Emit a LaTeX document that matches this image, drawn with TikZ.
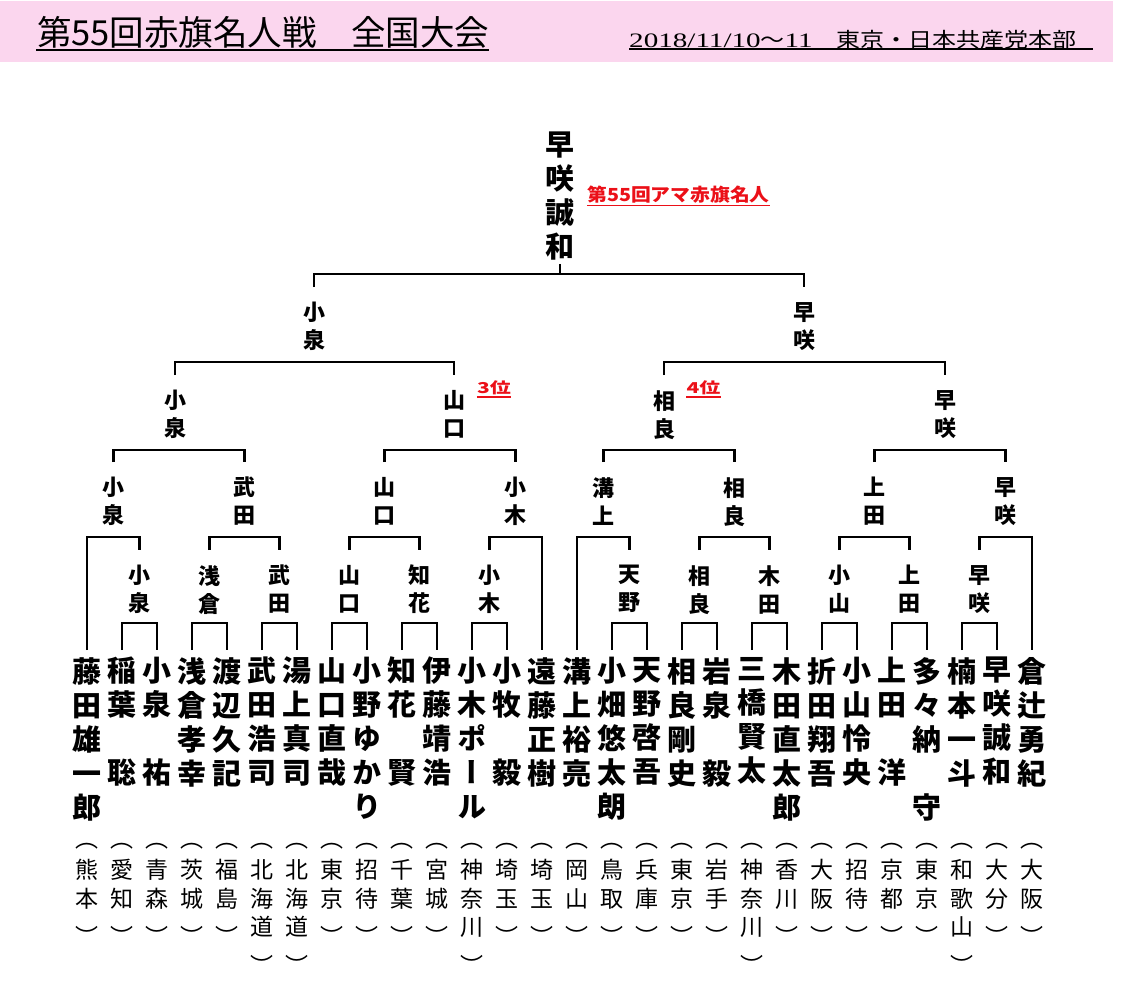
\documentclass[tikz,border=0pt]{standalone}
\usepackage{fontspec}
\usepackage{tikz}
\newfontfamily\cjk[RawFeature=+vert]{Noto Sans CJK JP}
\newfontfamily\cjkhead{Noto Sans CJK JP}
\newfontfamily\cjkdate[FakeStretch=1.17]{Noto Sans CJK JP}
\newfontfamily\numdate[FakeStretch=1.42]{Liberation Serif}
\newfontfamily\cjkrank[FakeStretch=1.4]{Noto Sans CJK JP}
\newfontfamily\cjkmeijin[FakeStretch=1.1]{Noto Sans CJK JP}
\definecolor{headpink}{RGB}{251,214,238}
\definecolor{rankred}{RGB}{235,16,24}

\begin{document}
\begin{tikzpicture}[x=1pt,y=-1pt,
	player/.style={font=\cjk\bfseries\fontsize{29}{34}\selectfont,align=center,anchor=north,inner xsep=0pt,inner ysep=7pt},
	pref/.style={font=\cjk\fontsize{23}{28.5}\selectfont,align=center,anchor=north,inner sep=0pt},
	winner/.style={font=\cjk\bfseries\fontsize{22}{28}\selectfont,align=center,anchor=north,inner xsep=0pt,inner ysep=15pt},
	champ/.style={font=\cjk\bfseries\fontsize{29}{34}\selectfont,align=center,anchor=north,inner xsep=0pt,inner ysep=3pt},
	rank/.style={font=\cjkrank\bfseries\fontsize{15}{15}\selectfont,text=rankred,inner sep=0pt,inner ysep=1.5pt},
	rankline/.style={draw=rankred,line width=1.5pt},
	bracket/.style={line width=2.7pt},
	headline/.style={line width=1.6pt}]
			\useasboundingbox (0,0) rectangle (1121,1001);
			\fill[headpink] (0,1) rectangle (1113,62);
			\node[anchor=west,inner sep=0pt,font=\cjkhead\fontsize{34.5}{34.5}\selectfont] (title) at (37,32.5) {第55回赤旗名人戦　全国大会};
			\node[anchor=west,inner sep=0pt,font=\fontsize{20.5}{20.5}\selectfont] (date) at (629,40) {{\numdate 2018/11/10}{\cjkdate ～}{\numdate 11}{\cjkdate 　東京・日本共産党本部}};
			\draw[headline] (36,50) -- (489,50);
			\draw[headline] (629,49) -- (1093,49);
		
			\node[player] (p0) at (87,650) {藤\\田\\雄\\一\\郎};
			\node[player] (p1) at (122,650) {稲\\葉\\　\\聡};
			\node[player] (p2) at (157,650) {小\\泉\\　\\祐};
			\node[player] (p3) at (192,650) {浅\\倉\\孝\\幸};
			\node[player] (p4) at (227,650) {渡\\辺\\久\\記};
			\node[player] (p5) at (262,650) {武\\田\\浩\\司};
			\node[player] (p6) at (297,650) {湯\\上\\真\\司};
			\node[player] (p7) at (332,650) {山\\口\\直\\哉};
			\node[player] (p8) at (367,650) {小\\野\\ゆ\\か\\り};
			\node[player] (p9) at (402,650) {知\\花\\　\\賢};
			\node[player] (p10) at (437,650) {伊\\藤\\靖\\浩};
			\node[player] (p11) at (472,650) {小\\木\\ポ\\ー\\ル};
			\node[player] (p12) at (507,650) {小\\牧\\　\\毅};
			\node[player] (p13) at (542,650) {遠\\藤\\正\\樹};
			\node[player] (p14) at (577,650) {溝\\上\\裕\\亮};
			\node[player] (p15) at (612,650) {小\\畑\\悠\\太\\朗};
			\node[player] (p16) at (647,650) {天\\野\\啓\\吾};
			\node[player] (p17) at (682,650) {相\\良\\剛\\史};
			\node[player] (p18) at (717,650) {岩\\泉\\　\\毅};
			\node[player] (p19) at (752,650) {三\\橋\\賢\\太};
			\node[player] (p20) at (787,650) {木\\田\\直\\太\\郎};
			\node[player] (p21) at (822,650) {折\\田\\翔\\吾};
			\node[player] (p22) at (857,650) {小\\山\\怜\\央};
			\node[player] (p23) at (892,650) {上\\田\\　\\洋};
			\node[player] (p24) at (927,650) {多\\々\\納\\　\\守};
			\node[player] (p25) at (962,650) {楠\\本\\一\\斗};
			\node[player] (p26) at (997,650) {早\\咲\\誠\\和};
			\node[player] (p27) at (1032,650) {倉\\辻\\勇\\紀};
		
			\node[pref] (f0) at (87,843) {（\\[3pt]熊\\本\\[10pt]）};
			\node[pref] (f1) at (122,843) {（\\[3pt]愛\\知\\[10pt]）};
			\node[pref] (f2) at (157,843) {（\\[3pt]青\\森\\[10pt]）};
			\node[pref] (f3) at (192,843) {（\\[3pt]茨\\城\\[10pt]）};
			\node[pref] (f4) at (227,843) {（\\[3pt]福\\島\\[10pt]）};
			\node[pref] (f5) at (262,843) {（\\[3pt]北\\海\\道\\[10pt]）};
			\node[pref] (f6) at (297,843) {（\\[3pt]北\\海\\道\\[10pt]）};
			\node[pref] (f7) at (332,843) {（\\[3pt]東\\京\\[10pt]）};
			\node[pref] (f8) at (367,843) {（\\[3pt]招\\待\\[10pt]）};
			\node[pref] (f9) at (402,843) {（\\[3pt]千\\葉\\[10pt]）};
			\node[pref] (f10) at (437,843) {（\\[3pt]宮\\城\\[10pt]）};
			\node[pref] (f11) at (472,843) {（\\[3pt]神\\奈\\川\\[10pt]）};
			\node[pref] (f12) at (507,843) {（\\[3pt]埼\\玉\\[10pt]）};
			\node[pref] (f13) at (542,843) {（\\[3pt]埼\\玉\\[10pt]）};
			\node[pref] (f14) at (577,843) {（\\[3pt]岡\\山\\[10pt]）};
			\node[pref] (f15) at (612,843) {（\\[3pt]鳥\\取\\[10pt]）};
			\node[pref] (f16) at (647,843) {（\\[3pt]兵\\庫\\[10pt]）};
			\node[pref] (f17) at (682,843) {（\\[3pt]東\\京\\[10pt]）};
			\node[pref] (f18) at (717,843) {（\\[3pt]岩\\手\\[10pt]）};
			\node[pref] (f19) at (752,843) {（\\[3pt]神\\奈\\川\\[10pt]）};
			\node[pref] (f20) at (787,843) {（\\[3pt]香\\川\\[10pt]）};
			\node[pref] (f21) at (822,843) {（\\[3pt]大\\阪\\[10pt]）};
			\node[pref] (f22) at (857,843) {（\\[3pt]招\\待\\[10pt]）};
			\node[pref] (f23) at (892,843) {（\\[3pt]京\\都\\[10pt]）};
			\node[pref] (f24) at (927,843) {（\\[3pt]東\\京\\[10pt]）};
			\node[pref] (f25) at (962,843) {（\\[3pt]和\\歌\\山\\[10pt]）};
			\node[pref] (f26) at (997,843) {（\\[3pt]大\\分\\[10pt]）};
			\node[pref] (f27) at (1032,843) {（\\[3pt]大\\阪\\[10pt]）};
		
			\node[winner] (a1) at (139.5,550) {小\\泉};
			\node[winner] (a2) at (209.5,550) {浅\\倉};
			\node[winner] (a3) at (279.5,550) {武\\田};
			\node[winner] (a4) at (349.5,550) {山\\口};
			\node[winner] (a5) at (419.5,550) {知\\花};
			\node[winner] (a6) at (489.5,550) {小\\木};
			\node[winner] (a7) at (629.5,550) {天\\野};
			\node[winner] (a8) at (699.5,550) {相\\良};
			\node[winner] (a9) at (769.5,550) {木\\田};
			\node[winner] (a10) at (839.5,550) {小\\山};
			\node[winner] (a11) at (909.5,550) {上\\田};
			\node[winner] (a12) at (979.5,550) {早\\咲};
			\node[winner] (b1) at (113.25,462) {小\\泉};
			\node[winner] (b2) at (244.5,462) {武\\田};
			\node[winner] (b3) at (384.5,462) {山\\口};
			\node[winner] (b4) at (515.75,462) {小\\木};
			\node[winner] (b5) at (603.25,462) {溝\\上};
			\node[winner] (b6) at (734.5,462) {相\\良};
			\node[winner] (b7) at (874.5,462) {上\\田};
			\node[winner] (b8) at (1005.75,462) {早\\咲};
			\node[winner] (c1) at (175,375) {小\\泉};
			\node[winner] (c2) at (454,375) {山\\口};
			\node[winner] (c3) at (664,375) {相\\良};
			\node[winner] (c4) at (945,375) {早\\咲};
			\node[winner] (d1) at (314,287) {小\\泉};
			\node[winner] (d2) at (804,287) {早\\咲};
			\node[champ] (ch) at (560,129) {早\\咲\\誠\\和};
		
			\node[rank,font=\cjkmeijin\bfseries\fontsize{18}{18}\selectfont,anchor=west] (r1) at (587,195) {第55回アマ赤旗名人};
			\node[rank] (r2) at (494,388) {3位};
			\node[rank] (r3) at (703.5,388) {4位};
			\draw[rankline] (r1.south west) -- (r1.south east);
			\draw[rankline] (r2.south west) -- (r2.south east);
			\draw[rankline] (r3.south west) -- (r3.south east);
		
			\draw[bracket] (p1.north) |- (p2.north |- 0,623) -- (p2.north);
			\draw[bracket] (p3.north) |- (p4.north |- 0,623) -- (p4.north);
			\draw[bracket] (p5.north) |- (p6.north |- 0,623) -- (p6.north);
			\draw[bracket] (p7.north) |- (p8.north |- 0,623) -- (p8.north);
			\draw[bracket] (p9.north) |- (p10.north |- 0,623) -- (p10.north);
			\draw[bracket] (p11.north) |- (p12.north |- 0,623) -- (p12.north);
			\draw[bracket] (p15.north) |- (p16.north |- 0,623) -- (p16.north);
			\draw[bracket] (p17.north) |- (p18.north |- 0,623) -- (p18.north);
			\draw[bracket] (p19.north) |- (p20.north |- 0,623) -- (p20.north);
			\draw[bracket] (p21.north) |- (p22.north |- 0,623) -- (p22.north);
			\draw[bracket] (p23.north) |- (p24.north |- 0,623) -- (p24.north);
			\draw[bracket] (p25.north) |- (p26.north |- 0,623) -- (p26.north);
			\draw[bracket] (p0.north) |- (a1.north |- 0,537) -- (a1.north);
			\draw[bracket] (a2.north) |- (a3.north |- 0,537) -- (a3.north);
			\draw[bracket] (a4.north) |- (a5.north |- 0,537) -- (a5.north);
			\draw[bracket] (a6.north) |- (p13.north |- 0,537) -- (p13.north);
			\draw[bracket] (p14.north) |- (a7.north |- 0,537) -- (a7.north);
			\draw[bracket] (a8.north) |- (a9.north |- 0,537) -- (a9.north);
			\draw[bracket] (a10.north) |- (a11.north |- 0,537) -- (a11.north);
			\draw[bracket] (a12.north) |- (p27.north |- 0,537) -- (p27.north);
			\draw[bracket] (b1.north) |- (b2.north |- 0,450) -- (b2.north);
			\draw[bracket] (b3.north) |- (b4.north |- 0,450) -- (b4.north);
			\draw[bracket] (b5.north) |- (b6.north |- 0,450) -- (b6.north);
			\draw[bracket] (b7.north) |- (b8.north |- 0,450) -- (b8.north);
			\draw[bracket] (c1.north) |- (c2.north |- 0,362) -- (c2.north);
			\draw[bracket] (c3.north) |- (c4.north |- 0,362) -- (c4.north);
			\draw[bracket] (d1.north) |- (d2.north |- 0,274) -- (d2.north);
			\draw[bracket] (ch.south) -- (ch.south |- 0,274);
		\end{tikzpicture}
\end{document}
